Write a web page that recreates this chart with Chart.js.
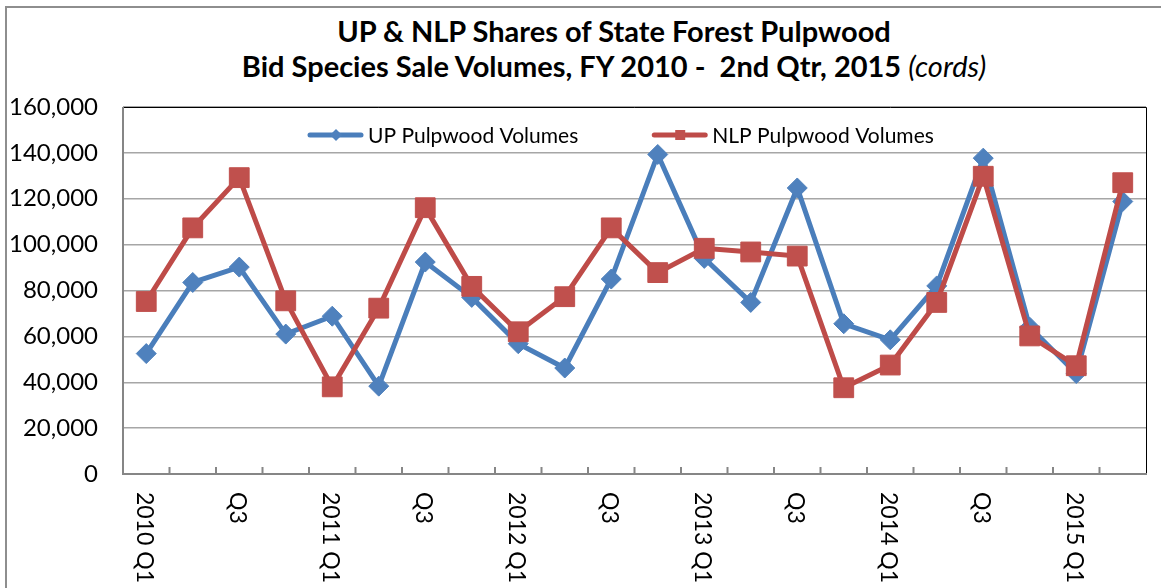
<!DOCTYPE html>
<html>
<head>
<meta charset="utf-8">
<script src="https://cdn.jsdelivr.net/npm/chart.js@4.4.1/dist/chart.umd.min.js"></script>
<style>
  body { margin: 0; background: #fff; }
  #wrap { position: relative; width: 1161px; height: 588px; overflow: hidden; }
  #frame { position: absolute; left: 5px; top: 6px; width: 1200px; height: 700px; border: 2px solid #8e8e8e; }
  .title { position: absolute; left: 0; width: 1228px; text-align: center; font-family: Lato, sans-serif;
           font-weight: bold; font-size: 29px; line-height: 38px; color: #000; white-space: pre; }
  .title i { font-weight: normal; }
  canvas { position: absolute; left: 0; top: 0; }
</style>
</head>
<body>
<div id="wrap">
  <div id="frame"></div>
  <div class="title" style="top:12px">UP &amp; NLP Shares of State Forest Pulpwood</div>
  <div class="title" style="top:47px">Bid Species Sale Volumes, FY 2010 -  2nd Qtr, 2015 <i>(cords)</i></div>
  <canvas id="PulpChart" width="1161" height="588"></canvas>
</div>
<script>
const categories = ['2010 Q1','Q2','Q3','Q4','2011 Q1','Q2','Q3','Q4','2012 Q1','Q2','Q3','Q4',
                    '2013 Q1','Q2','Q3','Q4','2014 Q1','Q2','Q3','Q4','2015 Q1','Q2'];
const upVolumes = [52500, 83500, 90200, 61000, 68800, 38300, 92400, 77000, 56800, 46200, 85000, 139300,
                   94000, 74800, 124700, 65500, 58500, 82000, 137700, 64000, 43800, 118800];
const nlpVolumes = [75200, 107300, 129200, 75500, 38000, 72300, 116100, 81800, 62000, 77300, 107300, 87800,
                    98400, 96800, 95000, 37600, 47500, 74800, 129800, 60200, 47200, 127000];
const seriesNames = ['UP Pulpwood Volumes', 'NLP Pulpwood Volumes'];
const yTicks = [0, 20000, 40000, 60000, 80000, 100000, 120000, 140000, 160000];

const FONT = 'Lato, sans-serif';

// frame, axis lines, inward ticks, legend and rotated category labels
const decor = {
  id: 'decor',
  beforeDatasetsDraw(chart) {
    const {ctx, chartArea: a, scales: {x}} = chart;
    ctx.save();
    ctx.strokeStyle = '#000';
    ctx.lineWidth = 1;
    ctx.beginPath();
    ctx.moveTo(a.left, a.top + 0.5); ctx.lineTo(a.right + 0.5, a.top + 0.5); ctx.lineTo(a.right + 0.5, a.bottom);
    ctx.stroke();
    ctx.strokeStyle = '#868686';
    ctx.lineWidth = 2;
    ctx.beginPath();
    ctx.moveTo(a.left, a.top); ctx.lineTo(a.left, a.bottom); ctx.lineTo(a.right + 1, a.bottom);
    for (let i = 1; i < categories.length; i++) {
      const px = (x.getPixelForValue(i - 1) + x.getPixelForValue(i)) / 2;
      ctx.moveTo(px, a.bottom); ctx.lineTo(px, a.bottom - 7);
    }
    ctx.stroke();
    ctx.restore();
  },
  afterDraw(chart) {
    const {ctx, chartArea: a, scales: {x}} = chart;
    ctx.save();
    // category labels, every other quarter, reading downwards
    ctx.fillStyle = '#000';
    ctx.font = '23px ' + FONT;
    ctx.textAlign = 'left';
    ctx.textBaseline = 'middle';
    categories.forEach((c, i) => {
      if (i % 2) return;
      ctx.save();
      ctx.translate(x.getPixelForValue(i) - 2, a.bottom + 18);
      ctx.rotate(Math.PI / 2);
      ctx.fillText(c, 0, 0);
      ctx.restore();
    });
    // legend inside plot
    ctx.font = '21px ' + FONT;
    let lx = a.left + 185;
    const ly = a.top + 28;
    chart.data.datasets.slice().sort((p, q) => p.legendIndex - q.legendIndex).forEach(ds => {
      ctx.strokeStyle = ds.borderColor;
      ctx.lineWidth = 5;
      ctx.lineCap = 'round';
      ctx.beginPath(); ctx.moveTo(lx + 2, ly); ctx.lineTo(lx + 53, ly); ctx.stroke();
      ctx.fillStyle = ds.pointBackgroundColor;
      const cx = lx + 28;
      ctx.beginPath();
      if (ds.pointStyle === 'rectRot') {
        ctx.moveTo(cx, ly - 6); ctx.lineTo(cx + 6, ly); ctx.lineTo(cx, ly + 6); ctx.lineTo(cx - 6, ly);
      } else {
        ctx.rect(cx - 5, ly - 5, 10, 10);
      }
      ctx.fill();
      ctx.fillStyle = '#000';
      ctx.fillText(ds.label, lx + 60, ly + 1);
      lx += 60 + ctx.measureText(ds.label).width + 74;
    });
    ctx.restore();
  }
};

new Chart(document.getElementById('PulpChart').getContext('2d'), {
  type: 'line',
  data: {
    labels: categories,
    datasets: [{
      label: seriesNames[0],
      legendIndex: 0,
      order: 1,
      data: upVolumes,
      borderColor: '#4a7ebb',
      backgroundColor: '#4f81bd',
      pointBackgroundColor: '#4f81bd',
      pointBorderColor: '#4f81bd',
      borderWidth: 5,
      pointStyle: 'rectRot',
      pointRadius: 10,
      pointHoverRadius: 10,
      pointBorderWidth: 1,
      tension: 0,
      fill: false
    }, {
      label: seriesNames[1],
      legendIndex: 1,
      order: 0,
      data: nlpVolumes,
      borderColor: '#be4b48',
      backgroundColor: '#c0504d',
      pointBackgroundColor: '#c0504d',
      pointBorderColor: '#c0504d',
      borderWidth: 5,
      pointStyle: 'rect',
      pointRadius: 14,
      pointHoverRadius: 14,
      pointBorderWidth: 1,
      tension: 0,
      fill: false
    }]
  },
  options: {
    responsive: false,
    animation: false,
    layout: { padding: { top: 107, right: 8, bottom: 0, left: 0 } },
    plugins: { legend: { display: false }, title: { display: false }, tooltip: { enabled: false } },
    scales: {
      x: {
        offset: true,
        grid: { display: false, offset: true },
        border: { display: false },
        ticks: { display: false },
        afterFit(s) { s.height = 114; }
      },
      y: {
        min: 0,
        max: 160000,
        afterBuildTicks(s) { s.ticks = yTicks.map(v => ({ value: v })); },
        afterFit(s) { s.width = 123; },
        grid: { color: '#a6a6a6', lineWidth: 1.5, drawTicks: false },
        border: { display: false },
        ticks: {
          padding: 25,
          color: '#000',
          font: { family: FONT, size: 24 },
          callback: v => v.toLocaleString('en-US')
        }
      }
    }
  },
  plugins: [decor]
});
</script>
</body>
</html>
